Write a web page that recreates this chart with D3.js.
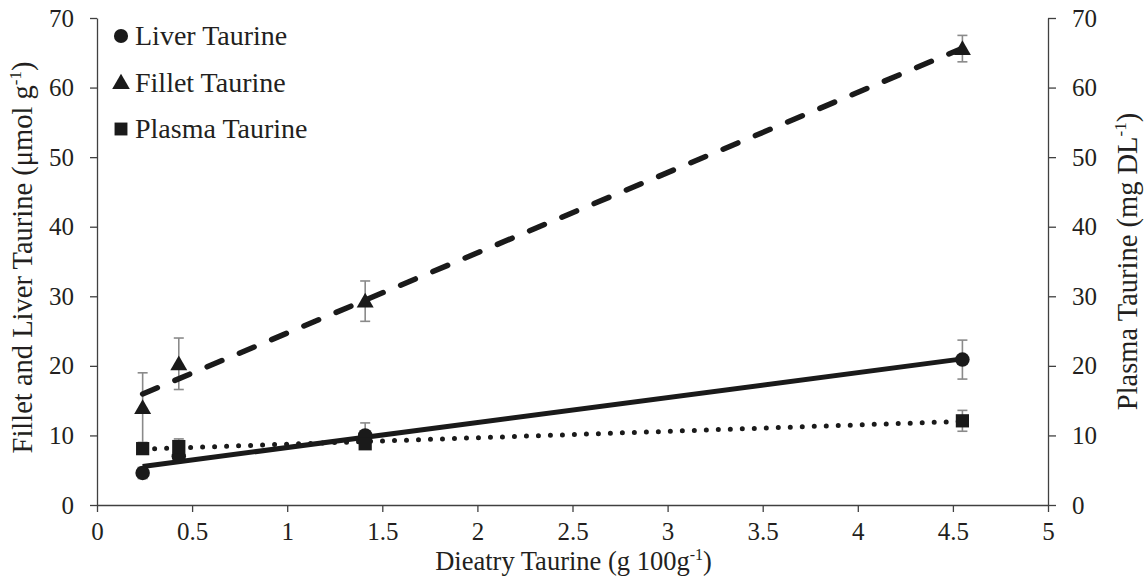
<!DOCTYPE html>
<html><head><meta charset="utf-8">
<script src="https://cdn.jsdelivr.net/npm/d3@7"></script>
<style>
body{margin:0;background:#fff;}
text{font-family:"Liberation Serif","Times New Roman",serif;fill:#231f20;}
</style></head>
<body><svg id="c" width="1144" height="582"></svg>
<script>
const dietTaurine = [0.24, 0.43, 1.41, 4.55];
const liverTaurine = [4.6, 7.0, 10.0, 20.9];
const liverErr = [0.8, 0.6, 1.8, 2.8];
const filletTaurine = [14.0, 20.3, 29.3, 65.6];
const filletErr = [5.0, 3.7, 2.9, 1.9];
const plasmaTaurine = [8.1, 8.4, 8.8, 12.1];
const plasmaErr = [0.5, 1.1, 0.6, 1.5];
const xTicks = [0, 0.5, 1, 1.5, 2, 2.5, 3, 3.5, 4, 4.5, 5];
const yTicks = [0, 10, 20, 30, 40, 50, 60, 70];

const W = 1144, H = 582;
const m = {l: 97, r: 96, t: 18, b: 77};
const svg = d3.select("#c");
const x = d3.scaleLinear().domain([0, 5]).range([m.l, W - m.r]);
const y = d3.scaleLinear().domain([0, 70]).range([H - m.b, m.t]);
const axisCol = "#404040";

function styleAxis(g){
  g.selectAll(".domain").attr("stroke", axisCol).attr("stroke-width", 1.3);
  g.selectAll(".tick line").attr("stroke", axisCol).attr("stroke-width", 1.3);
  g.selectAll(".tick text").style("font-size", "25px").attr("fill", "#231f20");
}
const xa = svg.append("g").attr("transform", `translate(0,${H - m.b})`)
  .call(d3.axisBottom(x).tickValues(xTicks).tickSize(7).tickSizeOuter(0).tickPadding(10).tickFormat(d => String(d)));
styleAxis(xa);
const yl = svg.append("g").attr("transform", `translate(${m.l},0)`)
  .call(d3.axisLeft(y).tickValues(yTicks).tickSize(7).tickSizeOuter(0).tickPadding(16));
styleAxis(yl);
const yr = svg.append("g").attr("transform", `translate(${W - m.r},0)`)
  .call(d3.axisRight(y).tickValues(yTicks).tickSize(8).tickSizeOuter(0).tickPadding(16));
styleAxis(yr);

// axis titles
const xt = svg.append("text").attr("x", (m.l + W - m.r) / 2 + 1).attr("y", 570)
  .attr("text-anchor", "middle").style("font-size", "26.5px");
xt.append("tspan").text("Dieatry Taurine (g 100g");
xt.append("tspan").text("-1").attr("dy", -10).style("font-size", "16px");
xt.append("tspan").text(")").attr("dy", 10);

const ylt = svg.append("text").attr("transform", `translate(32,${(m.t + H - m.b) / 2 - 4}) rotate(-90)`)
  .attr("text-anchor", "middle").style("font-size", "28.5px");
ylt.append("tspan").text("Fillet and Liver Taurine (μmol g");
ylt.append("tspan").text("-1").attr("dy", -11).style("font-size", "17px");
ylt.append("tspan").text(")").attr("dy", 11);

const yrt = svg.append("text").attr("transform", `translate(1137,${(m.t + H - m.b) / 2}) rotate(-90)`)
  .attr("text-anchor", "middle").style("font-size", "28.5px");
yrt.append("tspan").text("Plasma Taurine (mg DL");
yrt.append("tspan").text("-1").attr("dy", -11).style("font-size", "17px");
yrt.append("tspan").text(")").attr("dy", 11);

const series = [
  {name: "Liver Taurine", vals: liverTaurine, err: liverErr, sym: d3.symbolCircle, size: 165, dash: null},
  {name: "Fillet Taurine", vals: filletTaurine, err: filletErr, sym: d3.symbolTriangle, size: 125, dash: "16,19"},
  {name: "Plasma Taurine", vals: plasmaTaurine, err: plasmaErr, sym: d3.symbolSquare, size: 175, dash: "0,12"}
];

// error bars
series.forEach(s => {
  const g = svg.append("g").attr("stroke", "#8a8a8a").attr("stroke-width", 1.6);
  dietTaurine.forEach((xv, i) => {
    const lo = s.vals[i] - s.err[i], hi = s.vals[i] + s.err[i];
    g.append("line").attr("x1", x(xv)).attr("x2", x(xv)).attr("y1", y(lo)).attr("y2", y(hi));
    [lo, hi].forEach(v => g.append("line").attr("x1", x(xv) - 5).attr("x2", x(xv) + 5).attr("y1", y(v)).attr("y2", y(v)));
  });
});

// linear trend lines
function fit(xs, ys){
  const mx = d3.mean(xs), my = d3.mean(ys);
  const b = d3.sum(xs, (v, i) => (v - mx) * (ys[i] - my)) / d3.sum(xs, v => (v - mx) ** 2);
  return v => my + b * (v - mx);
}
const x0 = d3.min(dietTaurine), x1 = d3.max(dietTaurine);
series.forEach(s => {
  const f = fit(dietTaurine, s.vals);
  const p = svg.append("line").attr("x1", x(x0)).attr("y1", y(f(x0))).attr("x2", x(x1)).attr("y2", y(f(x1)))
    .attr("stroke", "#1a1a1a").attr("stroke-linecap", "round");
  if (s.dash === "0,12") p.attr("stroke-width", 5).attr("stroke-dasharray", s.dash);
  else if (s.dash) p.attr("stroke-width", 5.5).attr("stroke-dasharray", s.dash);
  else p.attr("stroke-width", 5).attr("stroke-linecap", "butt");
});

// markers
series.forEach(s => {
  svg.append("g").selectAll("path").data(dietTaurine).join("path")
    .attr("d", d3.symbol(s.sym, s.size))
    .attr("transform", (d, i) => `translate(${x(d)},${y(s.vals[i]) + (s.sym === d3.symbolTriangle ? 1.5 : 0)})`)
    .attr("fill", "#1a1a1a");
});

// legend
const leg = svg.append("g");
series.forEach((s, i) => {
  const yy = 36 + i * 46.5;
  leg.append("path").attr("d", d3.symbol(s.sym, s.sym === d3.symbolTriangle ? 135 : s.size * 0.95))
    .attr("transform", `translate(121,${yy + (s.sym === d3.symbolTriangle ? 1.5 : 0)})`).attr("fill", "#1a1a1a");
  leg.append("text").attr("x", 135).attr("y", yy + 9).style("font-size", "28px").text(s.name);
});
</script></body></html>
